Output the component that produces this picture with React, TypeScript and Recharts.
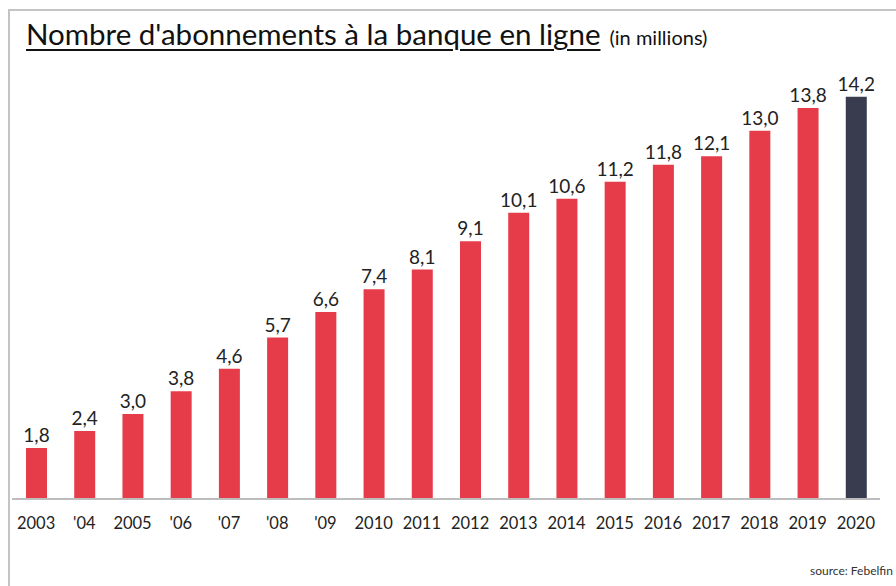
import { Bar, BarChart, Cell, LabelList, XAxis, YAxis } from "recharts";

const years = ["2003", "'04", "2005", "'06", "'07", "'08", "'09", "2010", "2011", "2012", "2013", "2014", "2015", "2016", "2017", "2018", "2019", "2020"];
const subscriptions = [1.8, 2.4, 3.0, 3.8, 4.6, 5.7, 6.6, 7.4, 8.1, 9.1, 10.1, 10.6, 11.2, 11.8, 12.1, 13.0, 13.8, 14.2];
const highlightYear = "2020";

const RED = "#e63c4a";
const DARK = "#393b4e";
const FONT = "Lato, 'Open Sans', sans-serif";

const data = years.map((year, i) => ({ year, value: subscriptions[i] }));

const fmt = (v: unknown) => Number(v).toFixed(1).replace(".", ",");

export default function App() {
  return (
    <div style={{ position: "fixed", left: 0, top: 0, width: 896, height: 586, background: "#fff", overflow: "hidden", fontFamily: FONT }}>
      {/* frame edges */}
      <div style={{ position: "absolute", left: 8, top: 9, right: -10, bottom: -10, borderTop: "2px solid #c4c4c4", borderLeft: "2px solid #c4c4c4" }} />
      <div style={{ position: "absolute", left: 26, top: 16, whiteSpace: "nowrap", color: "#111" }}>
        <span style={{ fontSize: 29.5, textDecoration: "underline", textDecorationThickness: 2, textUnderlineOffset: 4 }}>
          Nombre d'abonnements à la banque en ligne
        </span>
        <span style={{ fontSize: 20, marginLeft: 9 }}>(in millions)</span>
      </div>
      <div style={{ position: "absolute", left: 0, top: 0 }}>
        <BarChart width={896} height={586} data={data} margin={{ top: 74, right: 16, bottom: 55, left: 12 }} barCategoryGap={0}>
          <YAxis hide domain={[0, 15]} />
          <XAxis
            dataKey="year"
            interval={0}
            height={32}
            tickLine={false}
            axisLine={{ stroke: "#bdbdbd", strokeWidth: 2 }}
            tick={{ fill: "#222", fontSize: 16.5, fontFamily: FONT }}
            tickMargin={12}
          />
          <Bar dataKey="value" barSize={21} isAnimationActive={false}>
            {data.map((d) => (
              <Cell key={d.year} fill={d.year === highlightYear ? DARK : RED} />
            ))}
            <LabelList dataKey="value" position="top" offset={6} formatter={fmt} style={{ fill: "#222", fontSize: 19, fontFamily: FONT }} />
          </Bar>
        </BarChart>
      </div>
      <div style={{ position: "absolute", left: 810, top: 563, fontSize: 12, color: "#333" }}>source: Febelfin</div>
    </div>
  );
}
